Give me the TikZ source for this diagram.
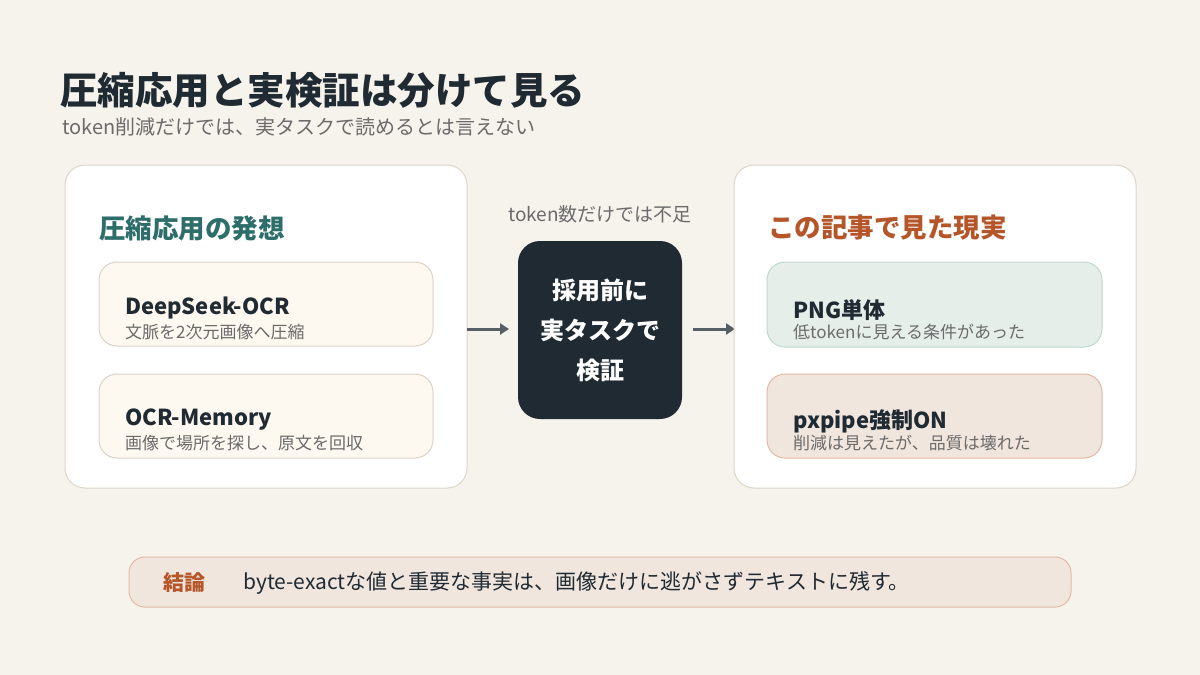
\documentclass[tikz,border=0pt]{standalone}
\usepackage{fontspec}
\usetikzlibrary{arrows.meta}
\setmainfont{Noto Sans CJK JP}
\definecolor{bg}{HTML}{F6F3EC}
\definecolor{ink}{HTML}{1F2A33}
\definecolor{gry}{HTML}{6B6B6B}
\definecolor{teal}{HTML}{2E6E6A}
\definecolor{org}{HTML}{B5562A}
\definecolor{panelb}{HTML}{DDD5C8}
\begin{document}
\begin{tikzpicture}[x=1pt,y=-1pt,
  panel/.style={fill=white,draw=panelb,line width=1pt,rounded corners=20pt},
  card/.style={line width=1pt,rounded corners=18pt},
  ttl/.style={anchor=west,font=\fontsize{22}{26}\selectfont\bfseries,text=ink,inner sep=0},
  sub/.style={anchor=west,font=\fontsize{17}{20}\selectfont,text=gry,inner sep=0},
  arr/.style={draw=ink!75,line width=3pt,-{Triangle[length=9pt,width=11pt]}}]
\useasboundingbox (0,0) rectangle (1200,675);
\fill[bg] (0,0) rectangle (1200,675);
\node[anchor=west,inner sep=0,font=\fontsize{37.5}{42}\selectfont\bfseries,text=ink] (title) at (60,90) {圧縮応用と実検証は分けて見る};
\node[anchor=west,inner sep=0,font=\fontsize{20}{24}\selectfont,text=gry] (subt) at (62,127) {token削減だけでは、実タスクで読めるとは言えない};
% left panel
\draw[panel] (65,165) rectangle (467,488);
\node[anchor=west,inner sep=0,font=\fontsize{26.5}{30}\selectfont\bfseries,text=teal] (lh) at (99,228) {圧縮応用の発想};
\draw[card,fill={rgb,255:red,253;green,248;blue,240},draw={rgb,255:red,221;green,211;blue,195}] (99,262) rectangle (433,346);
\node[ttl] (l1) at (125,308) {DeepSeek-OCR};
\node[sub] (l1s) at (125,332) {文脈を2次元画像へ圧縮};
\draw[card,fill={rgb,255:red,253;green,248;blue,240},draw={rgb,255:red,221;green,211;blue,195}] (99,374) rectangle (433,458);
\node[ttl] (l2) at (125,420) {OCR-Memory};
\node[sub] (l2s) at (125,443) {画像で場所を探し、原文を回収};
% center
\node[inner sep=0,font=\fontsize{19}{22}\selectfont,text=gry] (note) at (600,214) {token数だけでは不足};
\node[fill=ink,rounded corners=22pt,minimum width=164pt,minimum height=178pt,inner sep=0] (mid) at (600,330) {};
\node[text=white,font=\fontsize{24}{40}\selectfont\bfseries,align=center] at (mid.center) {採用前に\\実タスクで\\検証};
\coordinate (a1s) at (467,329); \coordinate (a1e) at (509,329);
\coordinate (a2s) at (693,329); \coordinate (a2e) at (735,329);
\draw[arr] (a1s) -- (a1e);
\draw[arr] (a2s) -- (a2e);
% right panel
\draw[panel] (734,165) rectangle (1136,488);
\node[anchor=west,inner sep=0,font=\fontsize{26.5}{30}\selectfont\bfseries,text=org] (rh) at (768,228) {この記事で見た現実};
\draw[card,fill={rgb,255:red,230;green,238;blue,234},draw={rgb,255:red,191;green,216;blue,207}] (767,262) rectangle (1102,347);
\node[ttl] (r1) at (793,310) {PNG単体};
\node[sub] (r1s) at (793,332) {低tokenに見える条件があった};
\draw[card,fill={rgb,255:red,241;green,230;blue,222},draw={rgb,255:red,224;green,185;blue,163}] (767,374) rectangle (1102,458);
\node[ttl] (r2) at (793,421) {pxpipe強制ON};
\node[sub] (r2s) at (793,443) {削減は見えたが、品質は壊れた};
% bottom
\draw[fill={rgb,255:red,241;green,230;blue,222},draw={rgb,255:red,226;green,185;blue,166},line width=1pt,rounded corners=16pt] (129,557) rectangle (1071,607);
\node[anchor=west,inner sep=0,font=\fontsize{21}{24}\selectfont\bfseries,text=org] (k) at (163,583) {結論};
\node[anchor=west,inner sep=0,font=\fontsize{21}{24}\selectfont,text=ink] (kt) at (243,583) {byte-exactな値と重要な事実は、画像だけに逃がさずテキストに残す。};
\end{tikzpicture}
\end{document}
